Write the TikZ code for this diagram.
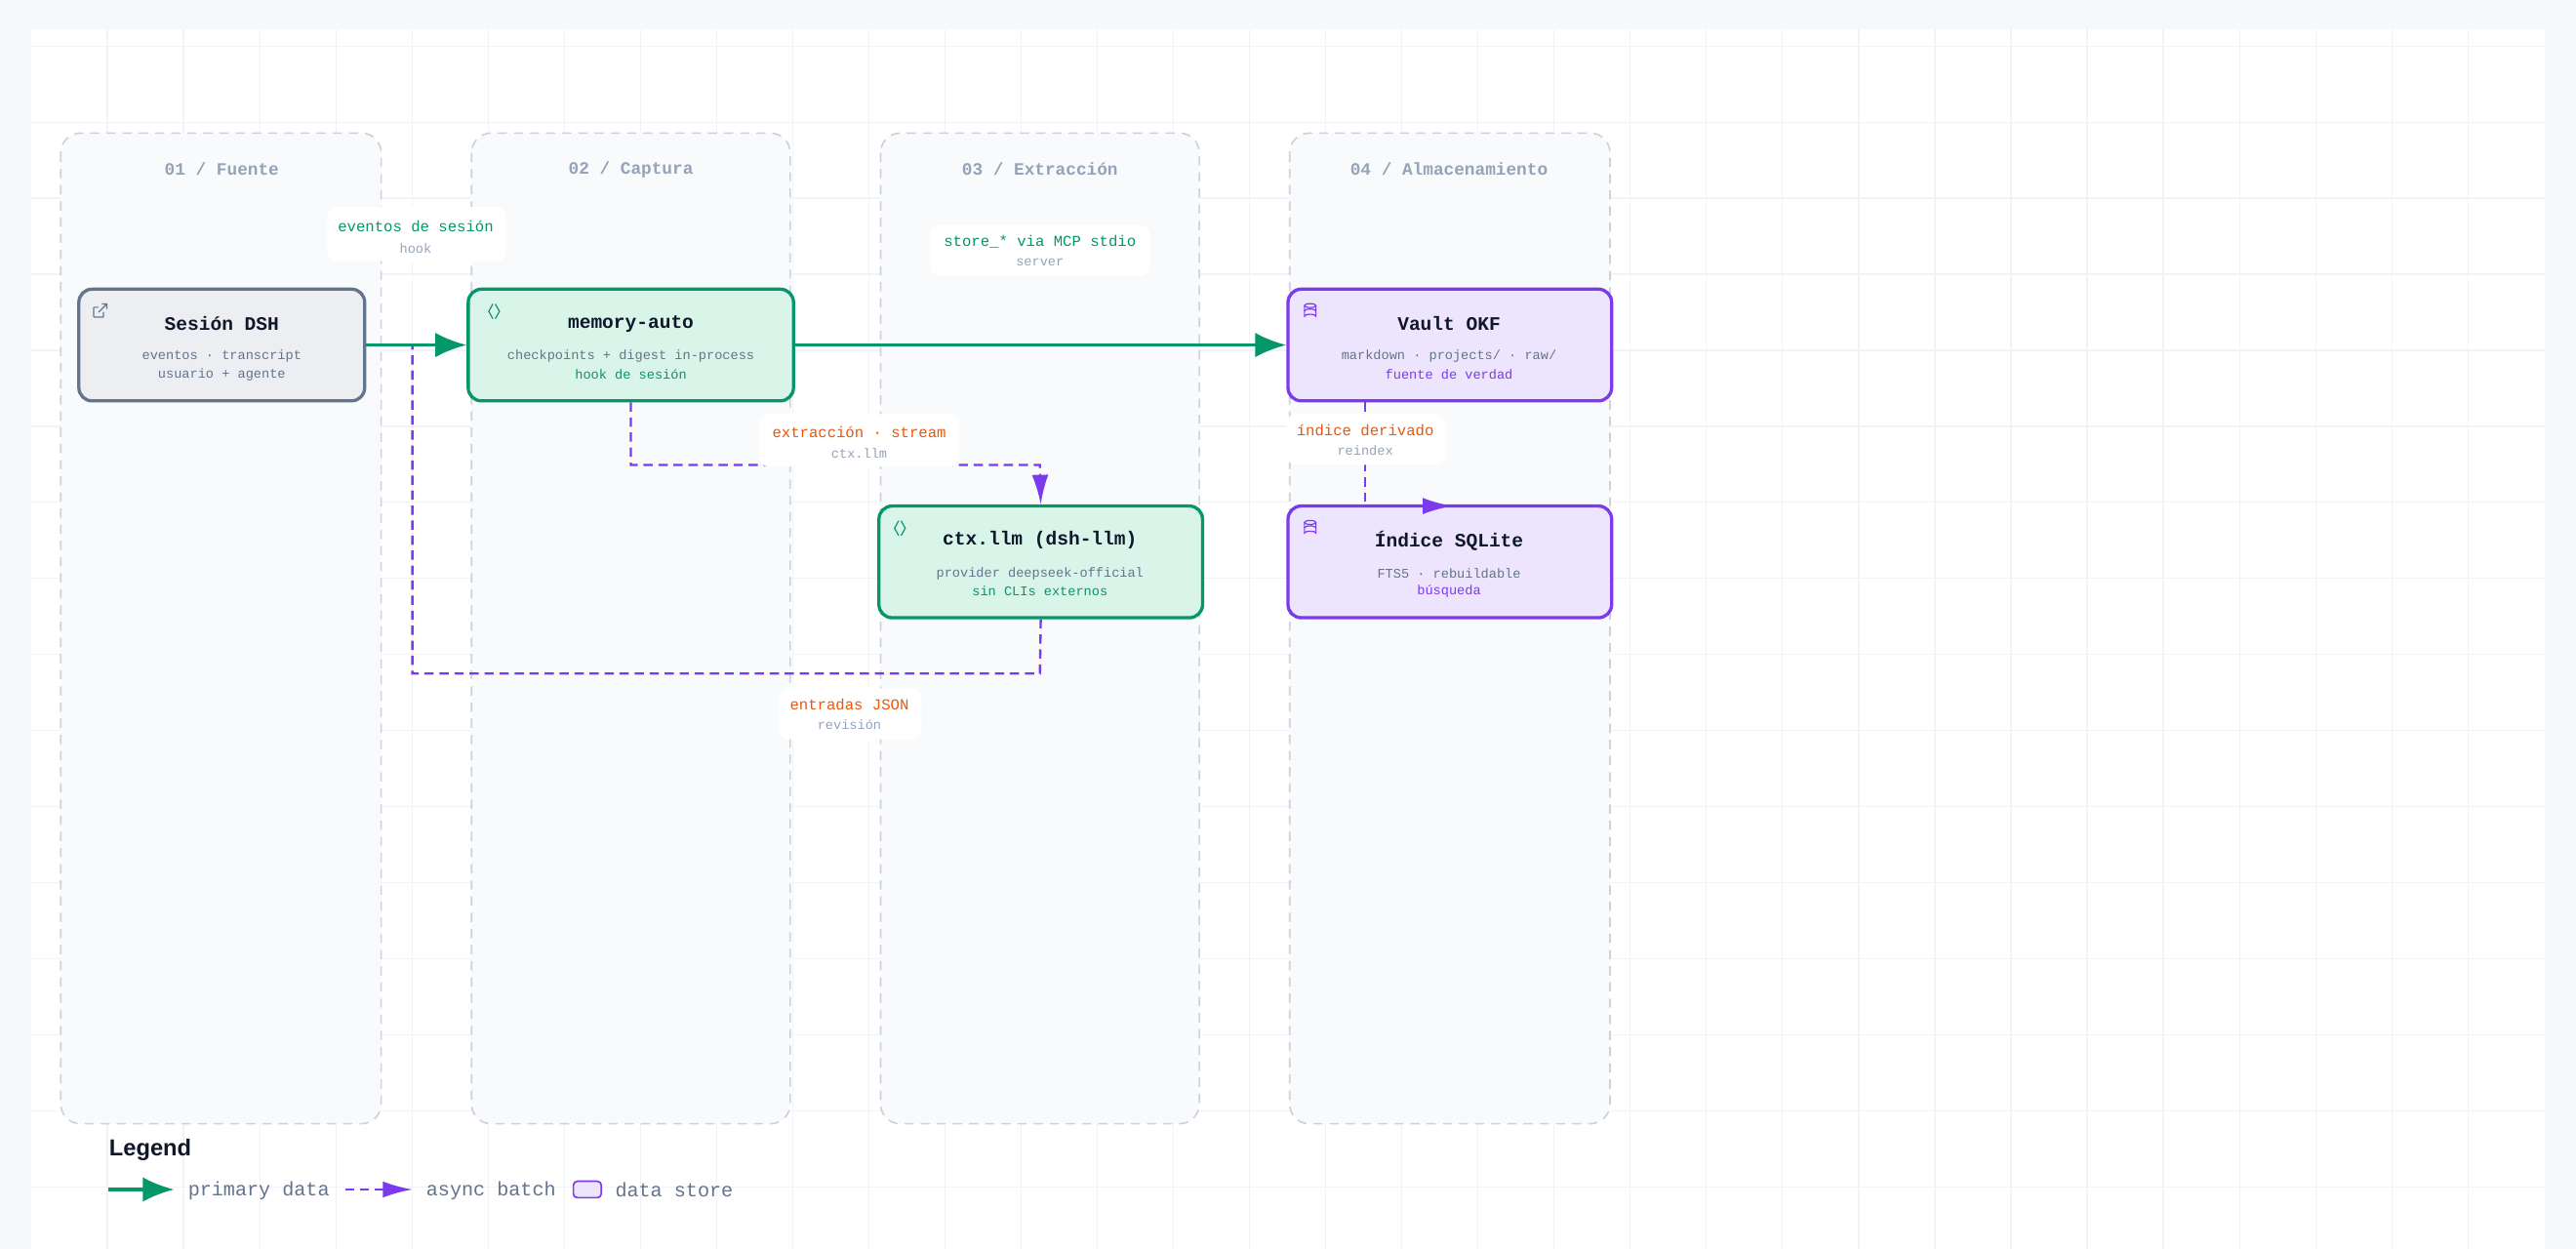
\documentclass[tikz,border=0pt]{standalone}
\usepackage{fontspec}
\setmainfont{Liberation Sans}
\setmonofont{Liberation Mono}
\usetikzlibrary{arrows.meta}
\definecolor{bgout}{HTML}{F7F8FA}
\definecolor{gridc}{HTML}{F1F3F6}
\definecolor{colfill}{HTML}{F8FAFC}
\definecolor{colline}{HTML}{CBD2DD}
\definecolor{hdr}{HTML}{94A3B8}
\definecolor{slate}{HTML}{64748B}
\definecolor{dark}{HTML}{0F172A}
\definecolor{grn}{HTML}{059669}
\definecolor{grnf}{HTML}{D9F5EA}
\definecolor{pur}{HTML}{7C3AED}
\definecolor{purf}{HTML}{EDE5FD}
\definecolor{gryf}{HTML}{ECEEF2}
\definecolor{org}{HTML}{EA580C}
\tikzset{
 col/.style={draw=colline,fill=colfill,dashed,dash pattern=on 8pt off 6pt,line width=1.4pt,rounded corners=0.6cm},
 hd/.style={font=\ttfamily\bfseries\fontsize{15}{18}\selectfont,text=hdr},
 box/.style={line width=2.8pt,rounded corners=0.4cm,minimum height=3.4cm},
 gbox/.style={box,draw=slate,fill=gryf},
 ebox/.style={box,draw=grn,fill=grnf},
 pbox/.style={box,draw=pur,fill=purf},
 ttl/.style={font=\ttfamily\bfseries\fontsize{16.5}{19}\selectfont,text=dark},
 sub/.style={font=\ttfamily\fontsize{11.5}{13}\selectfont,text=slate},
 lbl/.style={font=\ttfamily\fontsize{13.2}{16}\selectfont},
 lsub/.style={font=\ttfamily\fontsize{11.5}{13}\selectfont,text=hdr},
 lbg/.style={fill=white,rounded corners=0.3cm},
 prim/.style={draw=grn,line width=2.8pt,-{Latex[length=0.95cm,width=0.75cm]}},
 asy/.style={draw=pur,line width=2pt,dash pattern=on 8pt off 5pt,-{Latex[length=0.9cm,width=0.5cm]}},
 leg/.style={font=\ttfamily\fontsize{17}{20}\selectfont,text=slate,anchor=west},
}
\begin{document}
\begin{tikzpicture}[x=0.05cm,y=-0.05cm]
\fill[bgout] (0,0) rectangle (1568,760);
\fill[white] (19,18) rectangle (1549,760);
\foreach \i in {1,...,32} \draw[gridc,line width=1pt] ({19+46.35*\i},18)--({19+46.35*\i},760);
\foreach \i in {0,...,15} \draw[gridc,line width=1pt] (19,{28+46.3*\i})--(1549,{28+46.3*\i});
% columns
\draw[col] (37,81) rectangle (232,684);
\draw[col] (287,81) rectangle (481,684);
\draw[col] (536,81) rectangle (730,684);
\draw[col] (785,81) rectangle (980,684);
\node[hd] (h1) at (135,103) {01 / Fuente};
\node[hd] (h2) at (384,103) {02 / Captura};
\node[hd] (h3) at (633,103) {03 / Extracción};
\node[hd] (h4) at (882,103) {04 / Almacenamiento};
% labels top
\fill[lbg] (199,126) rectangle (308,159);
\node[lbl,text=grn] (l1) at (253,138) {eventos de sesión};
\node[lsub] (l1s) at (253,151) {hook};
\fill[lbg] (566,137) rectangle (700,168);
\node[lbl,text=grn] (l2) at (633,147) {store\_* via MCP stdio};
\node[lsub] (l2s) at (633,160) {server};
% nodes
\node[gbox,minimum width=8.7cm] (dsh) at (135,210) {};
\node[ebox,minimum width=9.9cm] (mem) at (384,210) {};
\node[pbox,minimum width=9.85cm] (vault) at (882.5,210) {};
\node[ebox,minimum width=9.85cm] (ctx) at (633.5,342) {};
\node[pbox,minimum width=9.85cm] (idx) at (882.5,342) {};
% edges
\draw[asy] (ctx.south) -- (633,410) -- (251,410) -- (251,210) -- (mem.west);
\draw[asy] (mem.south) -- (384,283) -- (633,283) -- (ctx.north);
\draw[asy] (vault.south -| 831,0) -- (831,308) -- (884,308);
\draw[prim] (dsh.east) -- (mem.west);
\draw[prim] (mem.east) -- (vault.west);
% mid labels
\fill[lbg] (462,252) rectangle (584,284);
\node[lbl,text=org] (l3) at (523,263) {extracción · stream};
\node[lsub] (l3s) at (523,276) {ctx.llm};
\fill[lbg] (783,252) rectangle (880,283);
\node[lbl,text=org] (l4) at (831,262) {índice derivado};
\node[lsub] (l4s) at (831,274) {reindex};
\fill[lbg] (474,419) rectangle (561,450);
\node[lbl,text=org] (l5) at (517,429) {entradas JSON};
\node[lsub] (l5s) at (517,441) {revisión};
% node texts
\node[ttl] (t1) at (135,197) {Sesión DSH};
\node[sub] (s1a) at (135,217) {eventos · transcript};
\node[sub] (s1b) at (135,228) {usuario + agente};
\node[ttl] (t2) at (384,197) {memory-auto};
\node[sub] (s2a) at (384,217) {checkpoints + digest in-process};
\node[sub,text=grn] (s2b) at (384,228) {hook de sesión};
\node[ttl] (t3) at (882,197) {Vault OKF};
\node[sub] (s3a) at (882,217) {markdown · projects/ · raw/};
\node[sub,text=pur] (s3b) at (882,228) {fuente de verdad};
\node[ttl] (t4) at (633,329) {ctx.llm (dsh-llm)};
\node[sub] (s4a) at (633,349) {provider deepseek-official};
\node[sub,text=grn] (s4b) at (633,360) {sin CLIs externos};
\node[ttl] (t5) at (882,329) {Índice SQLite};
\node[sub] (s5a) at (882,349) {FTS5 · rebuildable};
\node[sub,text=pur] (s5b) at (882,360) {búsqueda};
% icons
\draw[slate,line width=1pt,rounded corners=0.5pt] (60,187)--(57,187)--(57,193)--(63,193)--(63,190);
\draw[slate,line width=1pt] (60,190)--(65,185) (62,185)--(65,185)--(65,188);
\draw[grn,line width=1pt] (300,185)--(297.5,189.5)--(300,194) (301.5,185)--(304,189.5)--(301.5,194);
\draw[grn,line width=1pt] (547,317)--(544.5,321.5)--(547,326) (548.5,317)--(551,321.5)--(548.5,326);
\foreach \yy/\nm in {189/i3,321/i5}{
 \draw[pur,line width=1pt] (797.5,\yy-3) ellipse (3.5 and 1.2);
 \draw[pur,line width=1pt] (794,\yy-3)--(794,\yy+3.5) arc[start angle=180,end angle=360,x radius=3.5,y radius=1.2]--(801,\yy-3);
 \draw[pur,line width=1pt] (794,\yy+0.3) arc[start angle=180,end angle=360,x radius=3.5,y radius=1.2];
}
% legend
\node[font=\bfseries\fontsize{20}{22}\selectfont,text=dark,anchor=west] (lg) at (64,700) {Legend};
\coordinate (a1) at (66,724); \coordinate (a2) at (106,724);
\draw[prim] (a1) -- (a2);
\node[leg] (lt1) at (112,724.5) {primary data};
\coordinate (b1) at (210,724); \coordinate (b2) at (251,724);
\draw[asy] (b1) -- (b2);
\node[leg] (lt2) at (257,724.5) {async batch};
\draw[pur,fill=purf,line width=1.4pt,rounded corners=0.12cm] (349,719) rectangle (366,729);
\node[leg] (lt3) at (372,724.5) {data store};
\end{tikzpicture}
\end{document}
